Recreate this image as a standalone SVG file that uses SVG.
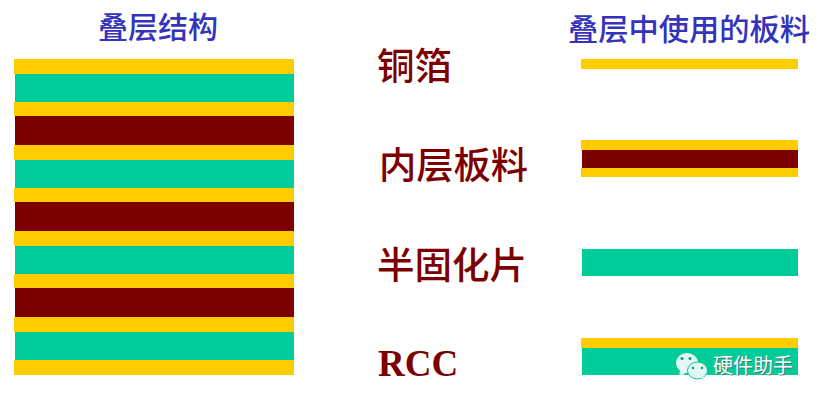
<svg xmlns="http://www.w3.org/2000/svg" width="820" height="403" viewBox="0 0 820 403">
<style>
.y{fill:#ffcc00}.g{fill:#00cc99}.m{fill:#7d0000}
.t{font-family:"Noto Sans CJK SC","Noto Sans",sans-serif;font-size:30px;font-weight:500;fill:#3333bb}
.l{font-family:"Noto Sans CJK SC","Noto Sans",sans-serif;font-size:37px;font-weight:500;fill:#7d0000}
.r{font-family:"Liberation Serif",serif;font-size:37px;font-weight:bold;fill:#7d0000}
.w{font-family:"Noto Sans CJK SC","Noto Sans",sans-serif;font-size:20px}
.b{fill:#e3f8f2}
.d{fill:#00a07a}
</style>
<rect width="820" height="403" fill="#fff"/>
<g id="stack">
<rect class="y" x="14" y="59" width="280" height="15"/>
<rect class="g" x="15" y="74" width="279" height="28"/>
<rect class="y" x="14" y="102" width="280" height="14"/>
<rect class="m" x="15" y="116" width="279" height="29"/>
<rect class="y" x="14" y="145" width="280" height="15"/>
<rect class="g" x="15" y="160" width="279" height="28"/>
<rect class="y" x="14" y="188" width="280" height="14"/>
<rect class="m" x="15" y="202" width="279" height="29"/>
<rect class="y" x="14" y="231" width="280" height="15"/>
<rect class="g" x="15" y="246" width="279" height="28"/>
<rect class="y" x="14" y="274" width="280" height="14"/>
<rect class="m" x="15" y="288" width="279" height="29"/>
<rect class="y" x="14" y="317" width="280" height="15"/>
<rect class="g" x="15" y="332" width="279" height="28"/>
<rect class="y" x="14" y="360" width="280" height="15"/>
</g>
<g id="copper-sample"><rect class="y" x="581" y="59" width="217" height="10"/></g>
<g id="core-sample">
<rect class="y" x="581" y="140" width="217" height="10"/>
<rect class="m" x="582" y="150" width="216" height="18"/>
<rect class="y" x="581" y="168" width="217" height="9"/>
</g>
<g id="prepreg-sample"><rect class="g" x="582" y="249" width="216" height="27"/></g>
<g id="rcc-sample">
<rect class="y" x="581" y="338" width="217" height="10"/>
<rect class="g" x="582" y="348" width="216" height="27"/>
</g>
<g id="titles">
<text class="t" x="98" y="38" textLength="120" lengthAdjust="spacingAndGlyphs">叠层结构</text>
<text class="t" x="568" y="40" textLength="242" lengthAdjust="spacingAndGlyphs">叠层中使用的板料</text>
</g>
<g id="labels">
<text class="l" x="377" y="80" textLength="75" lengthAdjust="spacingAndGlyphs">铜箔</text>
<text class="l" x="379" y="179" textLength="149" lengthAdjust="spacingAndGlyphs">内层板料</text>
<text class="l" x="377" y="279" textLength="150" lengthAdjust="spacingAndGlyphs">半固化片</text>
<text class="r" x="378" y="376">RCC</text>
</g>
<g id="watermark">
<ellipse class="b" cx="687" cy="363" rx="11" ry="10"/>
<path class="b" d="M680 370l-1 7 7-4z"/>
<ellipse class="b" cx="697.500" cy="370.500" rx="10" ry="8.500" stroke="#00cc99" stroke-width="1"/>
<path class="b" d="M701 378l4 3-1-4z"/>
<circle class="d" cx="682" cy="358.500" r="1.500"/><circle class="d" cx="690" cy="358.500" r="1.500"/>
<circle class="d" cx="693" cy="368" r="1.200"/><circle class="d" cx="702" cy="368" r="1.200"/>
<text class="w" x="714" y="374" fill="#555" opacity=".7" textLength="80" lengthAdjust="spacingAndGlyphs">硬件助手</text>
<text class="w" x="713" y="373" fill="#fff" textLength="80" lengthAdjust="spacingAndGlyphs">硬件助手</text>
</g>
</svg>
